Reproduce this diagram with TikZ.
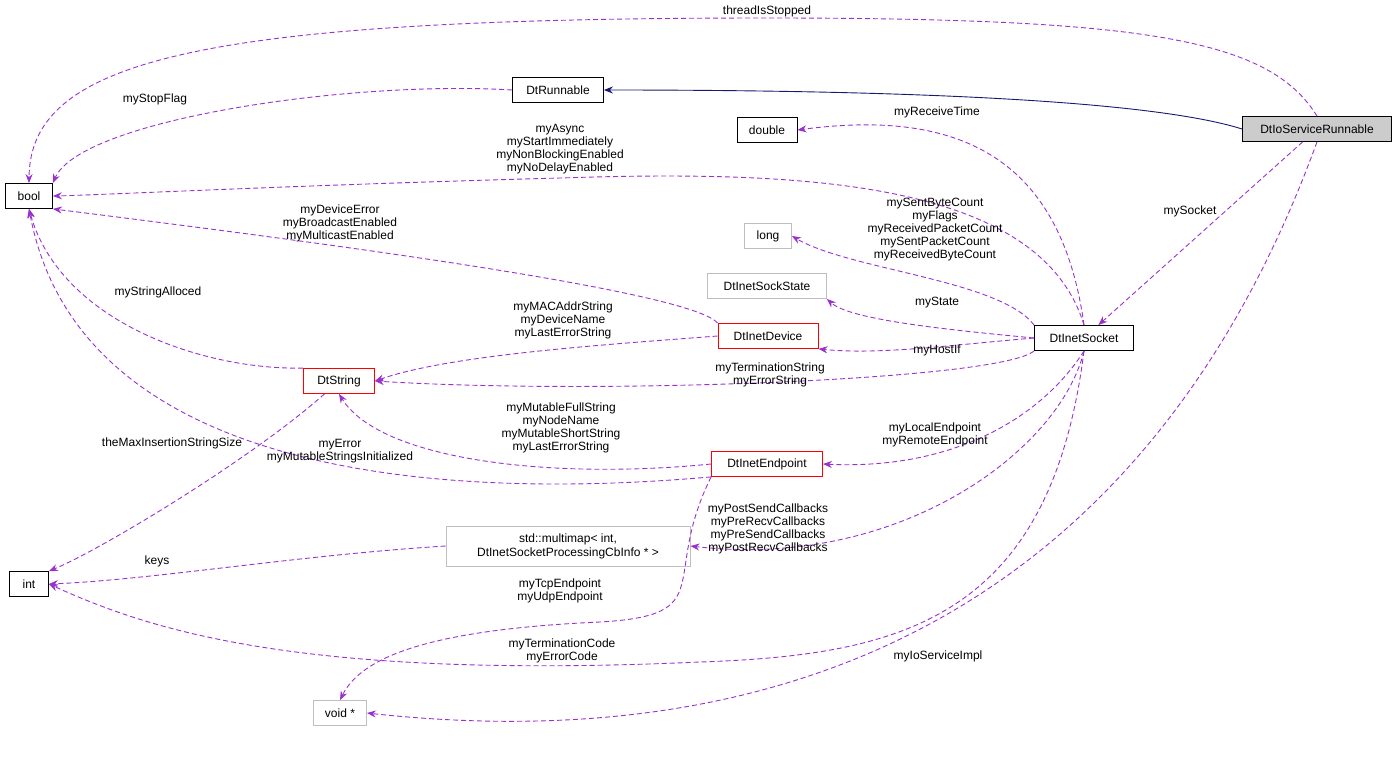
\documentclass[tikz,border=0pt]{standalone}
\usepackage{fontspec}
\setmainfont{Liberation Sans}
\usetikzlibrary{arrows.meta}
\definecolor{edgeColor}{RGB}{153,50,204}
\definecolor{inhColor}{RGB}{25,25,112}
\definecolor{greyColor}{RGB}{191,191,191}
\tikzset{
  cls/.style={draw=black,fill=white,inner sep=3pt,minimum height=25,font=\fontsize{12}{14}\selectfont,line width=0.8pt},
  grey cls/.style={cls,draw=greyColor},
  red cls/.style={cls,draw=red},
  use/.style={draw=edgeColor,dashed,dash pattern=on 5pt off 3pt,line width=0.9pt,-{Stealth[length=9pt,width=7pt]}},
  inh/.style={draw=inhColor,line width=0.9pt,-{Stealth[length=9pt,width=7pt]}},
  lbl/.style={align=center,inner sep=0pt,font=\fontsize{12}{13}\selectfont}
}
\begin{document}
\begin{tikzpicture}[x=1pt,y=-1pt]
\path[use as bounding box] (0,0) rectangle (1397,756);
% classes
\node[cls,fill=greyColor!80,minimum width=149] (ios) at (1317,129) {DtIoServiceRunnable};
\node[cls,minimum width=91] (run) at (558,90) {DtRunnable};
\node[cls,minimum width=60] (dbl) at (767,130) {double};
\node[cls,minimum width=47] (bool) at (29,196) {bool};
\node[grey cls,minimum width=47] (long) at (768,236) {long};
\node[grey cls,minimum width=119] (state) at (767,286) {DtInetSockState};
\node[red cls,minimum width=100] (dev) at (768,336) {DtInetDevice};
\node[cls,minimum width=99] (sock) at (1084,338) {DtInetSocket};
\node[red cls,minimum width=71] (str) at (339,381) {DtString};
\node[red cls,minimum width=111] (ep) at (767,464) {DtInetEndpoint};
\node[grey cls,minimum width=244,minimum height=40,align=center] (mm) at (568,546) {std::multimap\textless{} int,\\ DtInetSocketProcessingCbInfo * \textgreater};
\node[cls,minimum width=39] (int) at (29,584) {int};
\node[grey cls,minimum width=53] (void) at (340,713) {void *};
% connectors
\draw[inh] (ios.west) .. controls (1150,100) and (900,90) .. (run.east);
\draw[use] (ios.north) .. controls (1270,40) and (1150,18) .. (767,18) .. controls (200,18) and (30,60) .. (bool.north);
\draw[use] (run.west) .. controls (350,80) and (80,120) .. (bool.north east);
\draw[use] (sock.north) .. controls (1060,150) and (950,110) .. (dbl.east);
\draw[use] (sock.north) .. controls (1040,180) and (800,170) .. (560,178) .. controls (300,185) and (100,195) .. (bool.east);
\draw[use] (dev.north west) .. controls (690,290) and (300,240) .. (bool.south east);
\draw[use] (str.north west) .. controls (200,370) and (60,320) .. (bool.south);
\draw[use] (sock.north west) .. controls (1000,280) and (850,270) .. (long.east);
\draw[use] (sock.west) .. controls (950,330) and (850,320) .. (state.south east);
\draw[use] (sock.west) .. controls (950,345) and (880,355) .. (dev.south east);
\draw[use] (dev.west) .. controls (600,345) and (450,355) .. (str.east);
\draw[use] (sock.south west) .. controls (1000,380) and (600,395) .. (str.east);
\draw[use] (ios) -- (sock);
\draw[use] (str) .. controls (250,460) and (100,550) .. (int.north east);
\draw[use] (ep.west) .. controls (550,480) and (380,460) .. (str.south);
\draw[use] (ep.south west) .. controls (450,500) and (80,480) .. (bool.south);
\draw[use] (sock.south) .. controls (1040,420) and (950,470) .. (ep.east);
\draw[use] (sock.south) .. controls (1060,450) and (900,570) .. (mm.east);
\draw[use] (mm.west) .. controls (300,555) and (150,580) .. (int.east);
\draw[use] (ep.south west) .. controls (660,580) and (720,615) .. (600,622) .. controls (420,630) and (360,660) .. (void.north);
\draw[use] (sock.south) .. controls (1050,620) and (900,655) .. (700,662) .. controls (300,680) and (150,630) .. (int.east);
\draw[use] (ios.south) .. controls (1150,600) and (800,760) .. (void.east);
% labels
\node[lbl] (l1) at (767,11) {threadIsStopped};
\node[lbl] (l2) at (155,99) {myStopFlag};
\node[lbl] (l3) at (937,112) {myReceiveTime};
\node[lbl] (l4) at (560,149) {myAsync\\myStartImmediately\\myNonBlockingEnabled\\myNoDelayEnabled};
\node[lbl] (l5) at (340,223) {myDeviceError\\myBroadcastEnabled\\myMulticastEnabled};
\node[lbl] (l6) at (158,292) {myStringAlloced};
\node[lbl] (l7) at (935,230) {mySentByteCount\\myFlags\\myReceivedPacketCount\\mySentPacketCount\\myReceivedByteCount};
\node[lbl] (l8) at (937,303) {myState};
\node[lbl] (l9) at (937,350) {myHostIf};
\node[lbl] (l10) at (563,320) {myMACAddrString\\myDeviceName\\myLastErrorString};
\node[lbl] (l11) at (770,375) {myTerminationString\\myErrorString};
\node[lbl] (l12) at (1190,211) {mySocket};
\node[lbl] (l13) at (172,443) {theMaxInsertionStringSize};
\node[lbl] (l14) at (561,428) {myMutableFullString\\myNodeName\\myMutableShortString\\myLastErrorString};
\node[lbl] (l15) at (340,451) {myError\\myMutableStringsInitialized};
\node[lbl] (l16) at (935,435) {myLocalEndpoint\\myRemoteEndpoint};
\node[lbl] (l17) at (768,529) {myPostSendCallbacks\\myPreRecvCallbacks\\myPreSendCallbacks\\myPostRecvCallbacks};
\node[lbl] (l18) at (157,561) {keys};
\node[lbl] (l19) at (560,591) {myTcpEndpoint\\myUdpEndpoint};
\node[lbl] (l20) at (562,651) {myTerminationCode\\myErrorCode};
\node[lbl] (l21) at (938,656) {myIoServiceImpl};
\end{tikzpicture}
\end{document}
